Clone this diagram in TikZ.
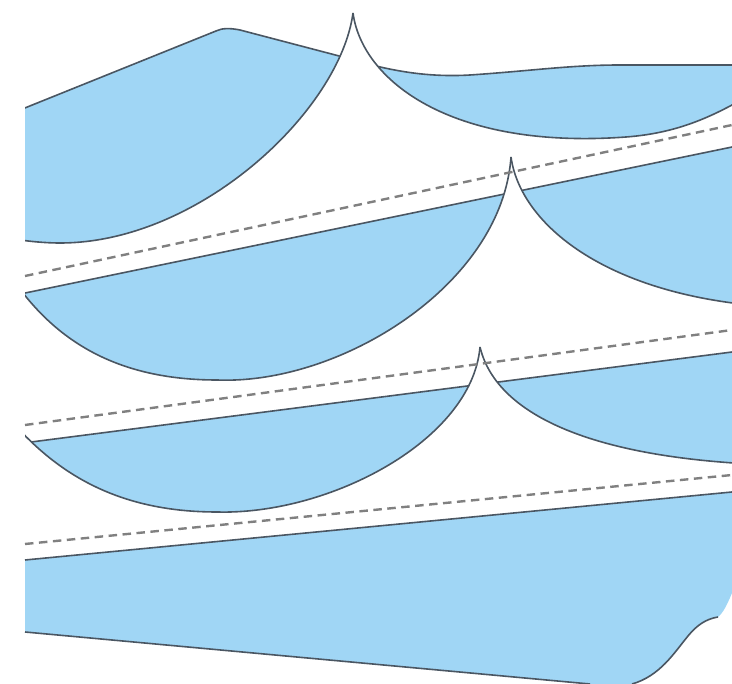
\documentclass[tikz,border=0pt]{standalone}
\usepackage{tikz}
\definecolor{sky}{RGB}{160,214,245}
\definecolor{rimgrey}{RGB}{74,86,98}
\definecolor{seamgrey}{RGB}{128,128,128}
% lens outlines (y runs downwards)
\newcommand{\ArcA}{(353,13) .. controls (340,110) and (200,243) .. (60,243) .. controls (40,243) and (15,240) .. (0,236)}
\newcommand{\ArcB}{(353,13) .. controls (362,80) and (450,150) .. (626,137) .. controls (680,133) and (715,115) .. (750,95)}
\newcommand{\ArcC}{(511,157) .. controls (502,285) and (340,385) .. (217,380) .. controls (110,380) and (50,335) .. (10,275)}
\newcommand{\ArcD}{(511,157) .. controls (520,222) and (600,290) .. (750,305)}
\newcommand{\ArcE}{(480,347) .. controls (472,440) and (330,515) .. (217,512) .. controls (120,512) and (60,475) .. (15,425)}
\newcommand{\ArcF}{(480,347) .. controls (495,410) and (580,455) .. (750,464)}
\newcommand{\TopOne}{(0,118) -- (216,31) .. controls (222,28) and (230,28) .. (240,30) -- (343,57) .. controls (380,68) and (420,78) .. (470,75) .. controls (530,71) and (570,65) .. (620,65) -- (750,65)}
\newcommand{\TopTwo}{(0,298.2) -- (750,143.3)}
\newcommand{\TopThree}{(0,446) -- (750,349.7)}

\begin{document}
\begin{tikzpicture}[x=1pt, y=-1pt,
    lens/.style={fill=sky},
    rim/.style={draw=rimgrey, line width=1.6pt, line join=round},
    seam/.style={draw=seamgrey, line width=2.4pt, dash pattern=on 8.5pt off 5.5pt}
  ]
  \useasboundingbox (0,0) rectangle (732,684);
  \begin{scope}
  \clip (25,0) rectangle (732,684);
  % ---------------- row 1 ----------------
  \begin{scope}
    \clip \ArcA -- (0,-20) -- (353,-20) -- cycle;
    \fill[lens] \TopOne -- (750,700) -- (0,700) -- cycle;
    \draw[rim] \TopOne;
  \end{scope}
  \begin{scope}
    \clip \ArcB -- (750,-20) -- (353,-20) -- cycle;
    \fill[lens] \TopOne -- (750,700) -- (0,700) -- cycle;
    \draw[rim] \TopOne;
  \end{scope}
  \draw[rim] \ArcA;
  \draw[rim] \ArcB;

  % ---------------- row 2 ----------------
  \begin{scope}
    \clip \ArcC -- (0,275) -- (0,-20) -- (511,-20) -- cycle;
    \fill[lens] \TopTwo -- (750,700) -- (0,700) -- cycle;
    \draw[rim] \TopTwo;
  \end{scope}
  \begin{scope}
    \clip \ArcD -- (750,-20) -- (511,-20) -- cycle;
    \fill[lens] \TopTwo -- (750,700) -- (0,700) -- cycle;
    \draw[rim] \TopTwo;
  \end{scope}
  \draw[rim] \ArcC;
  \draw[rim] \ArcD;

  % ---------------- row 3 ----------------
  \begin{scope}
    \clip \ArcE -- (0,425) -- (0,-20) -- (480,-20) -- cycle;
    \fill[lens] \TopThree -- (750,700) -- (0,700) -- cycle;
    \draw[rim] \TopThree;
  \end{scope}
  \begin{scope}
    \clip \ArcF -- (750,-20) -- (480,-20) -- cycle;
    \fill[lens] \TopThree -- (750,700) -- (0,700) -- cycle;
    \draw[rim] \TopThree;
  \end{scope}
  \draw[rim] \ArcE;
  \draw[rim] \ArcF;
  \end{scope}

  % ---------------- bottom sheet ----------------
  \fill[lens] (25,560) -- (732,492) -- (732,593) .. controls (727,605) and (723,613) .. (718,617)
    .. controls (706,619) and (697,625) .. (688,636) .. controls (674,653) and (660,676) .. (632,684)
    -- (590,684) -- (25,632) -- cycle;
  \draw[rim] (25,560) -- (732,492);
  \draw[rim] (718,617) .. controls (706,619) and (697,625) .. (688,636) .. controls (674,653) and (660,676) .. (632,684);
  \draw[rim] (25,632) -- (590,684);

  % dashed seams
  \draw[seam] (25,276) -- (732,125);
  \draw[seam] (25,425) -- (732,330);
  \draw[seam] (25,544) -- (732,475);
\end{tikzpicture}
\end{document}
